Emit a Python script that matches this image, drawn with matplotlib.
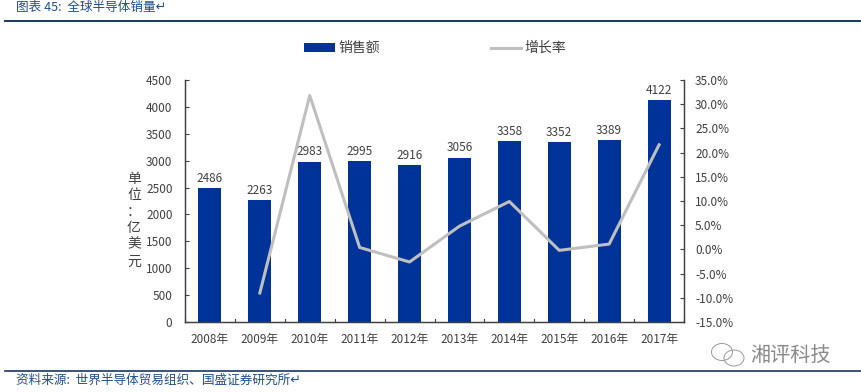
import matplotlib
matplotlib.use("Agg")
import matplotlib.pyplot as plt
from matplotlib.lines import Line2D
from matplotlib.patches import Rectangle, Ellipse

plt.rcParams['font.family'] = ['Noto Sans CJK SC', 'DejaVu Sans']

years = ["2008年", "2009年", "2010年", "2011年", "2012年", "2013年", "2014年", "2015年", "2016年", "2017年"]
sales = [2486, 2263, 2983, 2995, 2916, 3056, 3358, 3352, 3389, 4122]
growth = [None, -9.0, 31.8, 0.4, -2.6, 4.8, 9.9, -0.2, 1.1, 21.6]
left_ticks = [0, 500, 1000, 1500, 2000, 2500, 3000, 3500, 4000, 4500]
right_ticks = [-15, -10, -5, 0, 5, 10, 15, 20, 25, 30, 35]

W, H = 861, 392
BLUE = "#003399"
GREY = "#BFBFBF"
NAVY = "#17375E"
TEXT = "#404040"
TITLE = "#1F4E8C"

fig = plt.figure(figsize=(W / 100, H / 100), dpi=100)
ax = fig.add_axes([185 / W, 1 - 322 / H, (684 - 185) / W, (322 - 80) / H])
ax2 = ax.twinx()

x = list(range(len(years)))
bars = ax.bar(x, sales, width=0.46, color=BLUE)
ax.set_xlim(-0.5, 9.5)
ax.set_ylim(0, 4500)
ax.set_yticks(left_ticks)
ax.set_xticks(x)
ax.set_xticklabels(years)
ax.tick_params(axis='x', length=0, labelsize=8.5, labelcolor=TEXT, pad=8)
ax.tick_params(axis='y', direction='in', length=3, labelsize=8.5, labelcolor=TEXT, color=TEXT, pad=9)
for v in range(len(years) + 1):
    ax.plot([v - 0.5, v - 0.5], [0, 50], color=TEXT, lw=0.8, clip_on=False)
for xi, v in zip(x, sales):
    ax.text(xi, v + 60, str(v), ha='center', va='bottom', fontsize=8.5, color=TEXT)

gx = [a for a, g in zip(x, growth) if g is not None]
gy = [g for g in growth if g is not None]
ax2.plot(gx, gy, color=GREY, lw=2.2)
ax2.set_ylim(-15, 35)
ax2.set_yticks(right_ticks)
ax2.set_yticklabels([f"{t:.1f}%" for t in right_ticks])
ax2.tick_params(axis='y', direction='in', length=3, labelsize=8.5, labelcolor=TEXT, color=TEXT, pad=8)

for a in (ax, ax2):
    a.spines['top'].set_visible(False)
    for side in ('left', 'right', 'bottom'):
        a.spines[side].set_color(TEXT)
        a.spines[side].set_linewidth(0.9)

fig.text(134 / W, 1 - 220 / H, "单\n位\n：\n亿\n美\n元", ha='center', va='center',
         fontsize=10, color=TEXT, linespacing=1.23)

# legend drawn by hand to sit where the reference has it
fig.add_artist(Rectangle((304 / W, 1 - 52 / H), 31 / W, 9 / H, transform=fig.transFigure,
                         color=BLUE, lw=0))
fig.text(338 / W, 1 - 48 / H, "销售额", ha='left', va='center', fontsize=10, color=TEXT)
fig.add_artist(Line2D([491 / W, 521 / W], [1 - 48 / H, 1 - 48 / H], color=GREY, lw=2.2))
fig.text(524 / W, 1 - 48 / H, "增长率", ha='left', va='center', fontsize=10, color=TEXT)

# header and footer of the report page
fig.text(16 / W, 1 - 8 / H, "图表 45:  全球半导体销量↵", ha='left', va='center',
         fontsize=9.1, color=TITLE)
fig.add_artist(Line2D([5 / W, 861 / W], [1 - 21 / H, 1 - 21 / H], color=NAVY, lw=1.4))
fig.add_artist(Line2D([5 / W, 861 / W], [1 - 371 / H, 1 - 371 / H], color=NAVY, lw=1.2))
fig.text(16 / W, 1 - 380 / H, "资料来源:  世界半导体贸易组织、国盛证券研究所↵", ha='left', va='center',
         fontsize=9.1, color=TITLE)

# wechat style watermark
for cx, cy, w, h in [(722, 352, 21, 17), (734, 358, 20, 16)]:
    fig.add_artist(Ellipse((cx / W, 1 - cy / H), w / W, h / H, transform=fig.transFigure,
                           fill=False, ec="#999999", lw=0.7))
fig.text(750 / W, 1 - 355 / H, "湘评科技", ha='left', va='center', fontsize=14.5, color="#8A8A8A")

fig.savefig("out.png", dpi=100)
